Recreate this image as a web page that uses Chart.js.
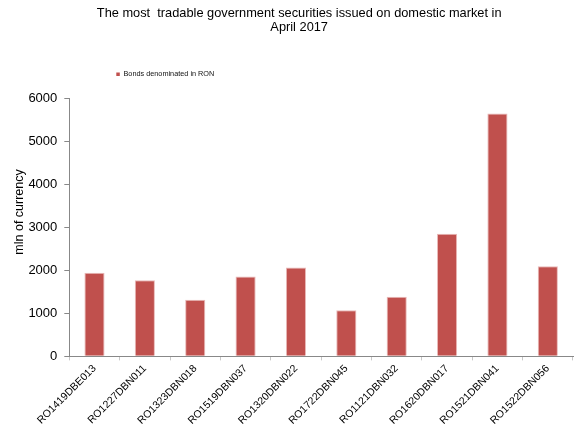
<!DOCTYPE html>
<html>
<head>
<meta charset="utf-8">
<title>Government securities - April 2017</title>
<script src="https://cdn.jsdelivr.net/npm/chart.js@4"></script>
<style>
    body { margin: 0; background: #fff; }
    #wrap { width: 577px; height: 435px; }
</style>
</head>
<body>
<div id="wrap"><canvas id="securitiesChart"></canvas></div>
<script>
// Bond codes on the x axis
const bondCodes = [
    'RO1419DBE013', 'RO1227DBN011', 'RO1323DBN018', 'RO1519DBN037', 'RO1320DBN022',
    'RO1722DBN045', 'RO1121DBN032', 'RO1620DBN017', 'RO1521DBN041', 'RO1522DBN056'
];
// Traded volume, mln of currency
const ronBonds = [1950, 1775, 1320, 1860, 2070, 1075, 1390, 2855, 5655, 2100];
// Value axis range
const yMin = 0;
const yMax = 6000;
const yStep = 1000;

const FONT = "'Liberation Sans', Arial, sans-serif";

document.addEventListener('DOMContentLoaded', function () {
    const canvas = document.getElementById('securitiesChart');
    if (!canvas) return;

    new Chart(canvas, {
        type: 'bar',
        data: {
            labels: bondCodes,
            datasets: [{
                label: 'Bonds denominated in RON',
                data: ronBonds,
                backgroundColor: '#C0504D',
                borderColor: '#E9B9B8',
                borderWidth: { left: 1, right: 1, top: 1, bottom: 0 },
                barPercentage: 0.4,
                categoryPercentage: 1.0
            }]
        },
        options: {
            responsive: true,
            maintainAspectRatio: false,
            animation: false,
            layout: {
                padding: { left: 4, right: 4, top: 0, bottom: 6 }
            },
            plugins: {
                title: {
                    display: true,
                    // leading spaces push the centred title a little to the right
                    text: [
                        '      The most  tradable government securities issued on domestic market in',
                        '      April 2017'
                    ],
                    color: '#000',
                    font: { family: FONT, size: 12.8, weight: 'normal', lineHeight: 1.09 },
                    // negative bottom padding lets the legend row start under the title text
                    padding: { top: 6.3, bottom: -10.7 }
                },
                // empty subtitle below the legend, used only as a spacer above the plot
                subtitle: {
                    display: true,
                    text: '',
                    position: 'top',
                    weight: 500,
                    fullSize: false,
                    font: { size: 1, lineHeight: 1 },
                    padding: { top: 10, bottom: 0 }
                },
                legend: {
                    display: true,
                    fullSize: false,
                    align: 'start',
                    labels: {
                        boxWidth: 3.5,
                        boxHeight: 3.5,
                        padding: 47,
                        color: '#111',
                        font: { family: FONT, size: 7.3 },
                        generateLabels: function (chart) {
                            const items = Chart.defaults.plugins.legend.labels.generateLabels(chart);
                            items.forEach(function (item) { item.lineWidth = 0; });
                            return items;
                        }
                    }
                },
                tooltip: { enabled: false }
            },
            scales: {
                x: {
                    border: { display: true, color: '#888', width: 1 },
                    grid: {
                        display: true,
                        drawOnChartArea: false,
                        drawTicks: true,
                        tickLength: 4,
                        color: '#C8C8C8'
                    },
                    ticks: {
                        color: '#000',
                        font: { family: FONT, size: 10.5 },
                        minRotation: 45,
                        maxRotation: 45,
                        autoSkip: false,
                        padding: 2
                    }
                },
                y: {
                    min: yMin,
                    max: yMax,
                    border: { display: true, color: '#888', width: 1 },
                    grid: {
                        display: true,
                        drawOnChartArea: false,
                        drawTicks: true,
                        tickLength: 5,
                        color: '#888'
                    },
                    ticks: {
                        stepSize: yStep,
                        color: '#000',
                        padding: 7,
                        font: { family: FONT, size: 13 },
                        callback: function (value) {
                            return String(value);
                        }
                    },
                    title: {
                        display: true,
                        // leading spaces lift the rotated title slightly above the middle
                        text: '         mln of currency',
                        color: '#000',
                        font: { family: FONT, size: 12.5 },
                        padding: { top: 8, bottom: 0 }
                    },
                    afterFit: function (scale) {
                        // fixed axis width so the plot starts where the labels end
                        scale.width = 65.3;
                    }
                }
            }
        }
    });
});
</script>
</body>
</html>
